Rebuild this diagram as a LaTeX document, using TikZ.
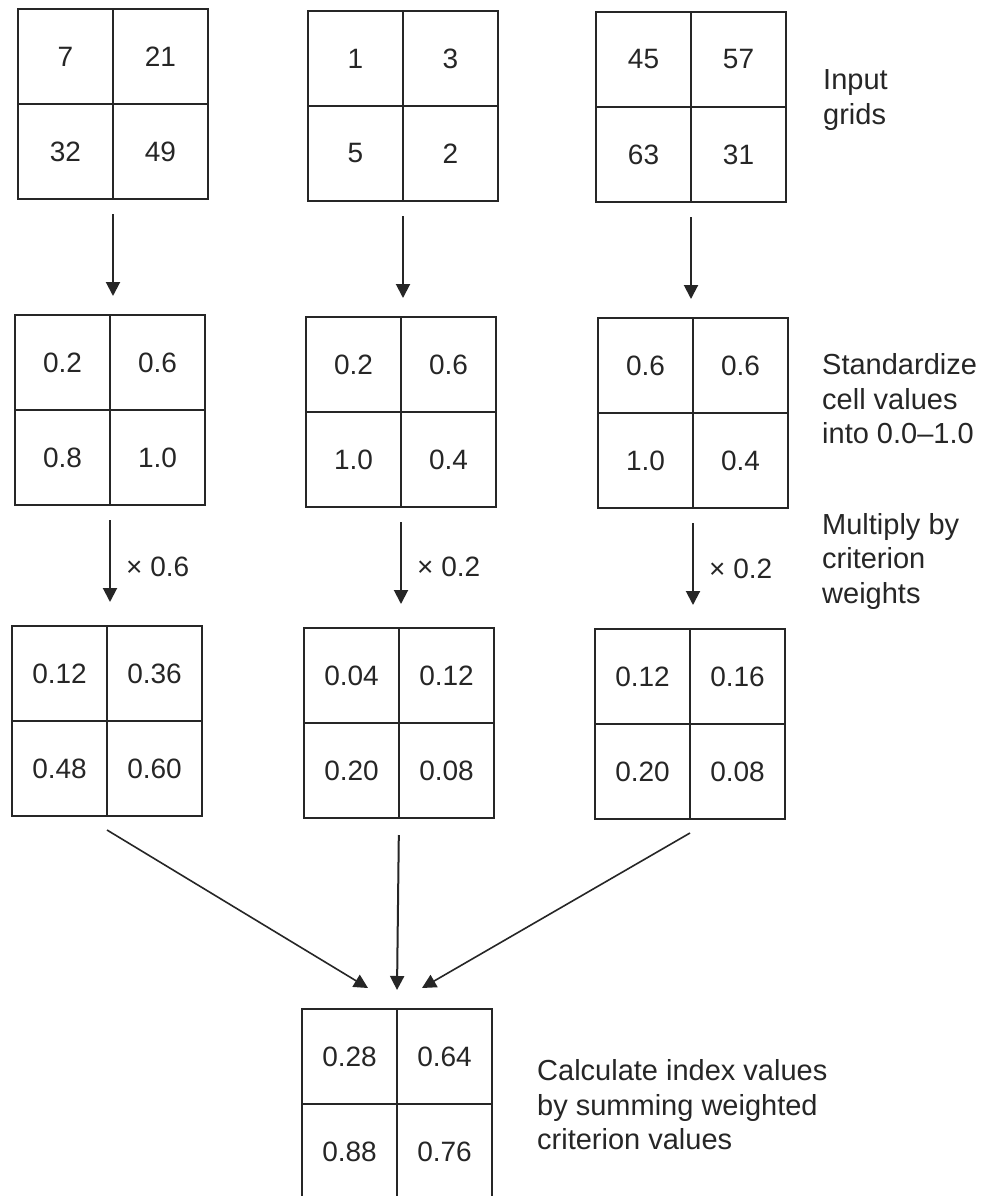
\documentclass[tikz,border=0pt]{standalone}
\usepackage{fontspec}
\setmainfont{Liberation Sans}
\usetikzlibrary{arrows.meta,calc}
\tikzset{
  gridbox/.style={draw=black!85, line width=2pt, minimum width=190pt, minimum height=190pt, inner sep=0pt,
    path picture={\draw[black!85, line width=2pt] (path picture bounding box.north) -- (path picture bounding box.south);
                  \draw[black!85, line width=2pt] (path picture bounding box.west) -- (path picture bounding box.east);}},
  cell/.style={font=\fontsize{28}{34}\selectfont, text=black!85, inner sep=0pt},
  lbl/.style={font=\fontsize{29}{34.5}\selectfont, text=black!85, align=left, anchor=west, inner sep=0pt},
  wlbl/.style={font=\fontsize{28}{33}\selectfont, text=black!85, anchor=west, inner sep=0pt},
  arr/.style={draw=black!85, line width=2pt, -{Triangle[width=14pt,length=14pt]}},
}
\newcommand\cellvals[5]{%
  \node[cell] (#1-a) at ($(#1)+(-47.5,-47.5)$) {#2};
  \node[cell] (#1-b) at ($(#1)+(47.5,-47.5)$) {#3};
  \node[cell] (#1-c) at ($(#1)+(-47.5,47.5)$) {#4};
  \node[cell] (#1-d) at ($(#1)+(47.5,47.5)$) {#5};
}
\begin{document}
\begin{tikzpicture}[x=1pt,y=-1pt]
\useasboundingbox[fill=white] (0,0) rectangle (984,1196);
% row 1
\node[gridbox] (a1) at (113,104) {};
\node[gridbox] (a2) at (403,106) {};
\node[gridbox] (a3) at (691,107) {};
% row 2
\node[gridbox] (b1) at (110,410) {};
\node[gridbox] (b2) at (401,412) {};
\node[gridbox] (b3) at (693,413) {};
% row 3
\node[gridbox] (c1) at (107,721) {};
\node[gridbox] (c2) at (399,723) {};
\node[gridbox] (c3) at (690,724) {};
% row 4
\node[gridbox] (d1) at (397,1104) {};

\cellvals{a1}{7}{21}{32}{49}
\cellvals{a2}{1}{3}{5}{2}
\cellvals{a3}{45}{57}{63}{31}
\cellvals{b1}{0.2}{0.6}{0.8}{1.0}
\cellvals{b2}{0.2}{0.6}{1.0}{0.4}
\cellvals{b3}{0.6}{0.6}{1.0}{0.4}
\cellvals{c1}{0.12}{0.36}{0.48}{0.60}
\cellvals{c2}{0.04}{0.12}{0.20}{0.08}
\cellvals{c3}{0.12}{0.16}{0.20}{0.08}
\cellvals{d1}{0.28}{0.64}{0.88}{0.76}

% vertical arrows
\draw[arr, shorten <=14pt, shorten >=18pt] (a1.south) -- (a1.south |- b1.north);
\draw[arr, shorten <=14pt, shorten >=18pt] (a2.south) -- (a2.south |- b2.north);
\draw[arr, shorten <=14pt, shorten >=18pt] (a3.south) -- (a3.south |- b3.north);
\draw[arr, shorten <=14pt, shorten >=23pt] (b1.south) -- (b1.south |- c1.north);
\draw[arr, shorten <=14pt, shorten >=23pt] (b2.south) -- (b2.south |- c2.north);
\draw[arr, shorten <=14pt, shorten >=23pt] (b3.south) -- (b3.south |- c3.north);

% weights
\node[wlbl] (w1) at (126,567) {× 0.6};
\node[wlbl] (w2) at (417,567) {× 0.2};
\node[wlbl] (w3) at (709,569) {× 0.2};

% converging arrows
\coordinate (c1s) at (107,830);
\coordinate (c3s) at (690,833);
\coordinate (t1) at (368,988);
\coordinate (t2) at (397,990);
\coordinate (t3) at (422,988);
\draw[arr, line width=1.6pt] (c1s) -- (t1);
\draw[arr, shorten <=16pt] (c2.south) -- (t2);
\draw[arr, line width=1.6pt] (c3s) -- (t3);

% side labels
\node[lbl] (l1) at (823,100) {Input\\grids};
\node[lbl] (l2) at (822,399) {Standardize\\cell values\\into 0.0–1.0};
\node[lbl] (l3) at (822,561) {Multiply by\\criterion\\weights};
\node[lbl] (l4) at (537,1105) {Calculate index values\\by summing weighted\\criterion values};
\end{tikzpicture}
\end{document}
